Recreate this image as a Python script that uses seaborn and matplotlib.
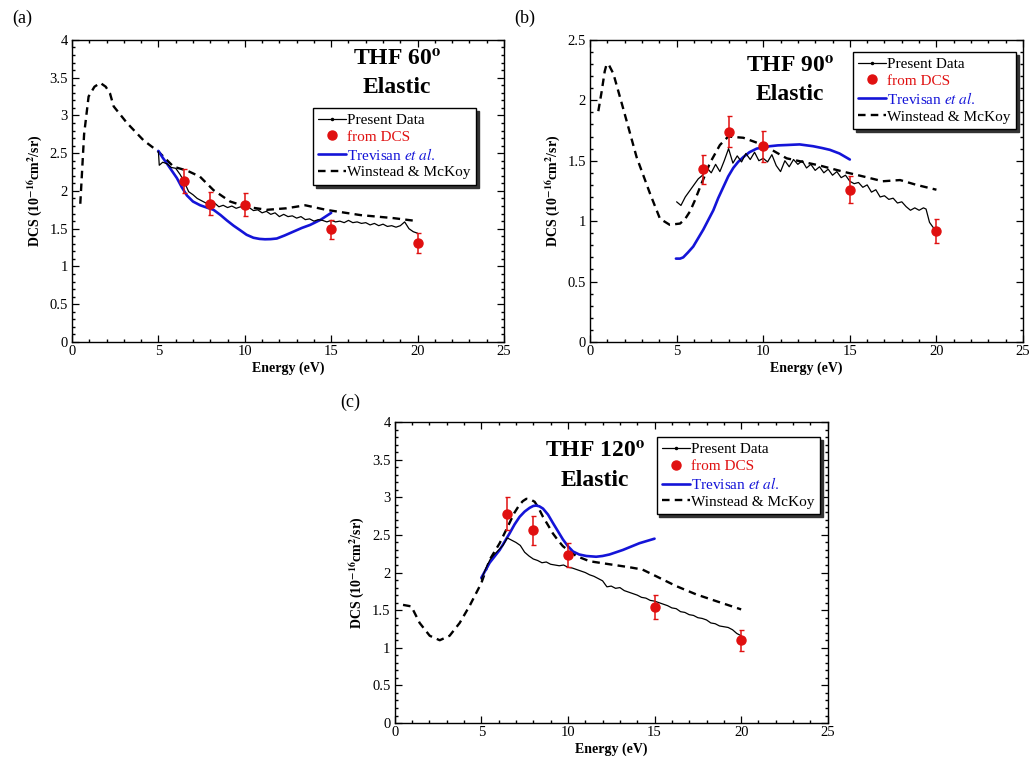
import seaborn as sns
import matplotlib.pyplot as plt
import numpy as np
from matplotlib.lines import Line2D
from matplotlib.ticker import MultipleLocator

# ---------------- data ----------------
# (a) THF 60 deg
present_a_x = [5.0, 5.05, 5.25, 5.5, 5.75, 6.0, 6.25, 6.5, 6.75, 7.0, 7.25, 7.5, 7.75, 8.0,
               8.25, 8.5, 8.75, 9.0, 9.25, 9.5, 9.75, 10.0, 10.25, 10.5, 10.75, 11.0, 11.25,
               11.5, 11.75, 12.0, 12.25, 12.5, 12.75, 13.0, 13.25, 13.5, 13.75, 14.0, 14.25,
               14.5, 14.75, 15.0, 15.25, 15.5, 15.75, 16.0, 16.25, 16.5, 16.75, 17.0, 17.25,
               17.5, 17.75, 18.0, 18.25, 18.5, 18.75, 19.0, 19.25, 19.5, 19.75, 20.0]
present_a_y = [2.52, 2.34, 2.38, 2.36, 2.31, 2.30, 2.22, 2.12, 1.99, 1.95, 1.90, 1.87, 1.84, 1.82,
               1.84, 1.79, 1.81, 1.78, 1.80, 1.77, 1.79, 1.76, 1.78, 1.74, 1.75, 1.71, 1.73,
               1.69, 1.71, 1.66, 1.69, 1.66, 1.67, 1.64, 1.66, 1.62, 1.63, 1.60, 1.62,
               1.61, 1.59, 1.61, 1.59, 1.60, 1.58, 1.61, 1.58, 1.59, 1.57, 1.58, 1.55,
               1.57, 1.54, 1.56, 1.53, 1.54, 1.52, 1.54, 1.59, 1.50, 1.46, 1.44]
trev_a_x = [5.0, 5.25, 5.5, 5.8, 6.07, 6.35, 6.65, 7.0, 7.42, 7.8, 8.19, 8.6, 8.96, 9.35, 9.73,
            10.1, 10.5, 10.85, 11.17, 11.5, 11.85, 12.3, 12.8, 13.3, 13.78, 14.4, 15.0]
trev_a_y = [2.53, 2.44, 2.36, 2.26, 2.17, 2.05, 1.94, 1.86, 1.81, 1.78, 1.75, 1.68, 1.61, 1.54,
            1.48, 1.42, 1.38, 1.365, 1.36, 1.362, 1.37, 1.41, 1.46, 1.51, 1.55, 1.62, 1.71]
wm_a_x = [0.48, 0.7, 0.96, 1.3, 1.64, 1.95, 2.2, 2.41, 3.18, 4.14, 5.0, 5.88, 6.65, 7.4, 8.19,
          9.15, 10.1, 11.27, 12.4, 13.5, 14.7, 16.7, 18.6, 20.0]
wm_a_y = [1.83, 2.75, 3.25, 3.38, 3.43, 3.38, 3.29, 3.12, 2.90, 2.67, 2.52, 2.32, 2.27, 2.19, 2.01,
          1.86, 1.79, 1.75, 1.77, 1.81, 1.75, 1.68, 1.64, 1.60]
dcs_a = [2.13, 1.83, 1.82, 1.49, 1.31]
err_a = [0.16, 0.15, 0.15, 0.12, 0.13]

# (b) THF 90 deg
present_b_x = [5.0, 5.25, 5.5, 5.75, 6.0, 6.25, 6.5, 6.75, 7.0, 7.25, 7.5, 7.75, 8.0, 8.25,
               8.5, 8.75, 9.0, 9.25, 9.5, 9.75, 10.0, 10.25, 10.5, 10.75, 11.0, 11.25, 11.5,
               11.75, 12.0, 12.25, 12.5, 12.75, 13.0, 13.25, 13.5, 13.75, 14.0, 14.25, 14.5,
               14.75, 15.0, 15.25, 15.5, 15.75, 16.0, 16.25, 16.5, 16.75, 17.0, 17.25, 17.5,
               17.75, 18.0, 18.25, 18.5, 18.75, 19.0, 19.25, 19.4, 19.6, 19.8, 20.0]
present_b_y = [1.16, 1.13, 1.20, 1.25, 1.30, 1.35, 1.38, 1.44, 1.40, 1.47, 1.41, 1.50, 1.60, 1.48,
               1.54, 1.49, 1.56, 1.51, 1.57, 1.50, 1.52, 1.49, 1.55, 1.46, 1.41, 1.50, 1.45,
               1.51, 1.47, 1.50, 1.44, 1.47, 1.42, 1.45, 1.40, 1.43, 1.38, 1.41, 1.36,
               1.38, 1.33, 1.31, 1.32, 1.28, 1.30, 1.24, 1.26, 1.20, 1.21, 1.18, 1.19,
               1.15, 1.16, 1.12, 1.09, 1.11, 1.09, 1.11, 1.10, 0.99, 0.95, 0.93]
trev_b_x = [4.96, 5.2, 5.38, 5.65, 5.96, 6.25, 6.54, 6.83, 7.12, 7.4, 7.69, 7.98, 8.27, 8.55,
            8.85, 9.2, 9.62, 10.0, 10.38, 10.85, 11.35, 12.1, 12.88, 13.4, 13.85, 14.4, 15.0]
trev_b_y = [0.69, 0.69, 0.70, 0.74, 0.79, 0.86, 0.93, 1.01, 1.09, 1.19, 1.28, 1.37, 1.44, 1.49,
            1.53, 1.57, 1.60, 1.61, 1.62, 1.627, 1.63, 1.635, 1.62, 1.605, 1.59, 1.56, 1.51]
wm_b_x = [0.48, 0.67, 0.85, 0.96, 1.1, 1.35, 1.92, 2.69, 3.46, 4.04, 4.6, 5.2, 5.5, 5.77, 6.05,
          6.35, 6.92, 7.5, 7.98, 8.85, 10.0, 11.35, 12.3, 13.27, 14.6, 15.77, 16.9, 17.9,
          18.85, 20.0]
wm_b_y = [1.91, 2.07, 2.24, 2.30, 2.29, 2.22, 1.93, 1.53, 1.23, 1.02, 0.97, 0.98, 1.02, 1.08,
          1.17, 1.28, 1.48, 1.63, 1.70, 1.69, 1.63, 1.52, 1.49, 1.46, 1.41, 1.37, 1.33, 1.34,
          1.30, 1.26]
dcs_b = [1.43, 1.74, 1.62, 1.26, 0.92]
err_b = [0.12, 0.13, 0.13, 0.11, 0.10]

# (c) THF 120 deg
present_c_x = [5.0, 5.25, 5.5, 5.75, 6.0, 6.25, 6.5, 6.75, 7.0, 7.25, 7.5, 7.75, 8.0, 8.25,
               8.5, 8.75, 9.0, 9.25, 9.5, 9.75, 10.0, 10.25, 10.5, 10.75, 11.0, 11.25, 11.5,
               11.75, 12.0, 12.25, 12.5, 12.75, 13.0, 13.25, 13.5, 13.75, 14.0, 14.25, 14.5,
               14.75, 15.0, 15.25, 15.5, 15.75, 16.0, 16.25, 16.5, 16.75, 17.0, 17.25, 17.5,
               17.75, 18.0, 18.25, 18.5, 18.75, 19.0, 19.25, 19.5, 19.75, 20.0]
present_c_y = [1.91, 2.05, 2.17, 2.24, 2.30, 2.36, 2.46, 2.43, 2.40, 2.36, 2.27, 2.22, 2.18, 2.16,
               2.13, 2.14, 2.11, 2.10, 2.09, 2.10, 2.07, 2.06, 2.04, 2.02, 2.00, 1.97, 1.95,
               1.92, 1.89, 1.81, 1.82, 1.79, 1.80, 1.76, 1.74, 1.72, 1.70, 1.67, 1.66,
               1.63, 1.62, 1.60, 1.58, 1.56, 1.53, 1.52, 1.48, 1.47, 1.44, 1.43, 1.40,
               1.39, 1.37, 1.33, 1.32, 1.29, 1.28, 1.27, 1.24, 1.19, 1.16]
trev_c_x = [5.0, 5.48, 6.06, 6.63, 6.92, 7.21, 7.5, 7.79, 8.0, 8.17, 8.35, 8.56, 8.85, 9.13,
            9.42, 9.71, 10.0, 10.29, 10.65, 11.06, 11.63, 12.0, 12.4, 13.17, 14.13, 15.0]
trev_c_y = [1.93, 2.13, 2.30, 2.52, 2.64, 2.74, 2.81, 2.86, 2.885, 2.89, 2.88, 2.85, 2.77, 2.66,
            2.55, 2.44, 2.35, 2.28, 2.24, 2.22, 2.21, 2.22, 2.24, 2.30, 2.39, 2.45]
wm_c_x = [0.48, 0.96, 1.44, 2.02, 2.6, 3.17, 3.75, 4.33, 5.0, 5.48, 6.06, 6.63, 6.9, 7.2, 7.4,
          7.6, 7.85, 8.08, 8.3, 8.56, 8.85, 9.13, 9.42, 9.71, 10.1, 10.48, 11.25, 12.4, 13.56,
          14.3, 15.1, 16.25, 17.4, 18.56, 20.0]
wm_c_y = [1.57, 1.55, 1.33, 1.16, 1.10, 1.16, 1.33, 1.56, 1.86, 2.17, 2.39, 2.66, 2.79, 2.90,
          2.95, 2.98, 2.97, 2.94, 2.86, 2.74, 2.63, 2.52, 2.43, 2.35, 2.28, 2.22, 2.15, 2.11,
          2.07, 2.04, 1.95, 1.82, 1.71, 1.62, 1.51]
dcs_c = [2.78, 2.56, 2.23, 1.54, 1.10]
err_c = [0.22, 0.19, 0.16, 0.16, 0.14]

dcs_energy = [6.5, 8, 10, 15, 20]
series_labels = ['Present Data', 'from DCS', r'Trevisan $\mathit{et\ al.}$', 'Winstead & McKoy']

RED = '#e01010'
BLUE = '#1414d8'

sns.set_theme(style="ticks")
plt.rcParams['font.family'] = ['Liberation Serif', 'DejaVu Serif']
plt.rcParams['mathtext.fontset'] = 'stix'
plt.rcParams.update({
    'text.color': 'black', 'axes.labelcolor': 'black',
    'xtick.direction': 'in', 'ytick.direction': 'in',
    'xtick.top': True, 'ytick.right': True,
    'xtick.minor.visible': True, 'ytick.minor.visible': True,
    'xtick.major.size': 5, 'ytick.major.size': 5,
    'xtick.minor.size': 2.5, 'ytick.minor.size': 2.5,
    'xtick.major.width': 0.9, 'ytick.major.width': 0.9,
    'xtick.major.pad': 2, 'ytick.major.pad': 3,
    'xtick.labelsize': 10.5, 'ytick.labelsize': 10.5,
    'axes.linewidth': 1.0, 'axes.edgecolor': 'black',
    'xtick.color': 'black', 'ytick.color': 'black',
})

fig = plt.figure(figsize=(10.36, 7.61), dpi=100)

panels = [
    dict(rect=[0.0695, 0.5506, 0.417, 0.397], ymax=4, angle='60',
         present=(present_a_x, present_a_y), trev=(trev_a_x, trev_a_y), wm=(wm_a_x, wm_a_y),
         dcs=dcs_a, err=err_a, title_xy=(0.752, 0.934, 0.844), leg=(0.558, 0.775), tag='(a)',
         tag_xy=(12, 18)),
    dict(rect=[0.5695, 0.5506, 0.418, 0.397], ymax=2.5, angle='90',
         present=(present_b_x, present_b_y), trev=(trev_b_x, trev_b_y), wm=(wm_b_x, wm_b_y),
         dcs=dcs_b, err=err_b, title_xy=(0.462, 0.91, 0.818), leg=(0.607, 0.96), tag='(b)',
         tag_xy=(514, 18)),
    dict(rect=[0.381, 0.0499, 0.418, 0.3955], ymax=4, angle='120',
         present=(present_c_x, present_c_y), trev=(trev_c_x, trev_c_y), wm=(wm_c_x, wm_c_y),
         dcs=dcs_c, err=err_c, title_xy=(0.462, 0.90, 0.807), leg=(0.605, 0.95), tag='(c)',
         tag_xy=(340, 402)),
]

for p in panels:
    ax = fig.add_axes(p['rect'])
    sns.lineplot(x=p['wm'][0], y=p['wm'][1], ax=ax, sort=False, color='black',
                 lw=1.7, linestyle=(0, (3.2, 2.2)), legend=False)
    sns.lineplot(x=p['trev'][0], y=p['trev'][1], ax=ax, sort=False, color=BLUE,
                 lw=1.9, legend=False)
    sns.lineplot(x=p['present'][0], y=p['present'][1], ax=ax, sort=False, color='black',
                 lw=0.9, legend=False)
    ax.errorbar(dcs_energy, p['dcs'], yerr=p['err'], fmt='o', color=RED, ms=6.5,
                elinewidth=1.1, capsize=1.8, capthick=1.0, zorder=5)

    ax.set_xlim(0, 25)
    ax.set_ylim(0, p['ymax'])
    ax.xaxis.set_major_locator(MultipleLocator(5))
    ax.xaxis.set_minor_locator(MultipleLocator(1))
    ax.yaxis.set_major_locator(MultipleLocator(0.5))
    ax.yaxis.set_minor_locator(MultipleLocator(0.1))
    ax.set_yticklabels([f'{v:g}' for v in ax.get_yticks()])
    ax.set_xlabel('Energy (eV)', fontsize=10, fontweight='bold', labelpad=3)
    ax.set_ylabel(r'DCS (10$^{\mathbf{-16}}$cm$^{\mathbf{2}}$/sr)', fontsize=10,
                  fontweight='bold', labelpad=4)

    tx, ty1, ty2 = p['title_xy']
    ax.text(tx, ty1, 'THF ' + p['angle'] + r'$^{\mathbf{o}}$', transform=ax.transAxes,
            ha='center', va='center', fontsize=17, fontweight='bold', color='black')
    ax.text(tx, ty2, 'Elastic', transform=ax.transAxes, ha='center', va='center',
            fontsize=17, fontweight='bold', color='black')

    handles = [
        Line2D([], [], color='black', lw=0.9, marker='.', ms=3),
        Line2D([], [], color=RED, lw=0, marker='o', ms=6.5),
        Line2D([], [], color=BLUE, lw=1.9),
        Line2D([], [], color='black', lw=1.7, linestyle=(0, (3.2, 2.2))),
    ]
    leg = ax.legend(handles, series_labels, loc='upper left', bbox_to_anchor=p['leg'],
                    borderaxespad=0, fontsize=11, frameon=True, fancybox=False,
                    shadow={'color': '0.2', 'alpha': 1.0, 'ox': 2, 'oy': -2},
                    edgecolor='black', framealpha=1, handlelength=1.8, handletextpad=0.1,
                    labelspacing=0.2, borderpad=0.35)
    leg.get_frame().set_linewidth(1.0)
    for txt, col in zip(leg.get_texts(), ['black', RED, BLUE, 'black']):
        txt.set_color(col)

    fig.text(p['tag_xy'][0] / 1036, 1 - p['tag_xy'][1] / 761, p['tag'], fontsize=13,
             ha='left', va='center', color='black')

fig.savefig('out.png', dpi=100)
plt.close(fig)
